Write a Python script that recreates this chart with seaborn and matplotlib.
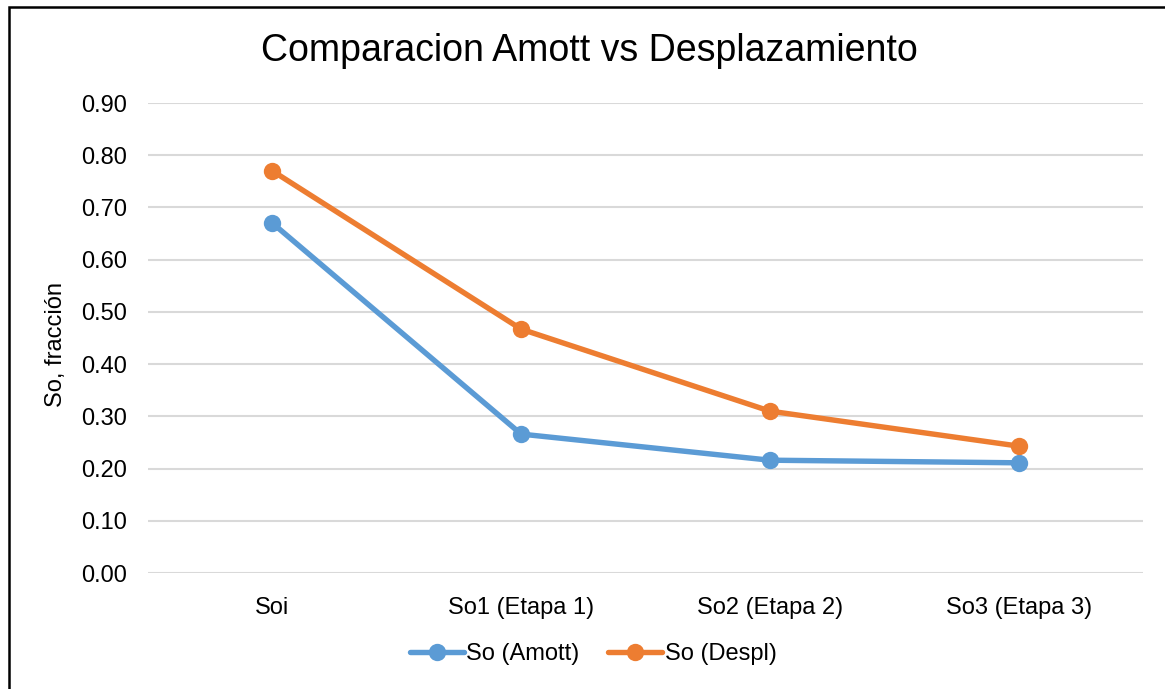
import matplotlib
matplotlib.use("Agg")
import matplotlib.pyplot as plt
import seaborn as sns
import pandas as pd
from matplotlib.patches import Rectangle

categories = ["Soi", "So1 (Etapa 1)", "So2 (Etapa 2)", "So3 (Etapa 3)"]
so_amott = [0.670, 0.266, 0.216, 0.211]
so_despl = [0.770, 0.467, 0.310, 0.243]
series_names = ["So (Amott)", "So (Despl)"]
y_ticks = [0.0, 0.1, 0.2, 0.3, 0.4, 0.5, 0.6, 0.7, 0.8, 0.9]

sns.set_theme(style="white")
plt.rcParams['font.family'] = ['Liberation Sans', 'DejaVu Sans']
plt.rcParams['text.color'] = 'black'
plt.rcParams['xtick.color'] = 'black'
plt.rcParams['ytick.color'] = 'black'
plt.rcParams['axes.labelcolor'] = 'black'

df = pd.DataFrame({
    "cat": categories * 2,
    "x": list(range(len(categories))) * 2,
    "val": so_amott + so_despl,
    "serie": [series_names[0]] * len(categories) + [series_names[1]] * len(categories),
})

fig = plt.figure(figsize=(11.65, 6.89), dpi=100)
ax = fig.add_axes([148/1165, 1 - 573/689, (1143-148)/1165, (573-103)/689])

palette = {series_names[0]: "#5B9BD5", series_names[1]: "#ED7D31"}
sns.lineplot(data=df, x="x", y="val", hue="serie", palette=palette, marker="o",
             markersize=12.5, markeredgewidth=0, linewidth=3.9, ax=ax, legend=True)

ax.set_xlim(-0.5, len(categories) - 0.5)
ax.set_ylim(0, 0.9)
ax.set_yticks(y_ticks)
ax.set_yticklabels([f"{t:.2f}" for t in y_ticks], fontsize=17)
ax.set_xticks(range(len(categories)))
ax.set_xticklabels(categories, fontsize=17)
ax.tick_params(axis='both', length=0)
ax.tick_params(axis='x', pad=17)
ax.tick_params(axis='y', pad=15)
ax.grid(axis='y', color="#D9D9D9", linewidth=1.5)
ax.set_axisbelow(True)
for s in ax.spines.values():
    s.set_visible(False)
ax.set_xlabel("")
ax.set_ylabel("So, fracción", fontsize=17)
ax.yaxis.set_label_coords(67/1165, 0.5, transform=fig.transFigure)

fig.suptitle("Comparacion Amott vs Desplazamiento", fontsize=27, x=589.5/1165, y=1 - 51/689,
             va='center', color='black')

leg = ax.legend(loc='center', bbox_to_anchor=(593/1165, 1 - 654/689), bbox_transform=fig.transFigure,
                ncol=2, frameon=False, fontsize=17, handlelength=2.3, handletextpad=0.1,
                columnspacing=1.2)

fig.patches.append(Rectangle((9/1165, -0.05), 1.2, 1 - 7/689 + 0.05, transform=fig.transFigure,
                             fill=False, edgecolor="black", linewidth=1.8, figure=fig))

fig.savefig("out.png", dpi=100)
